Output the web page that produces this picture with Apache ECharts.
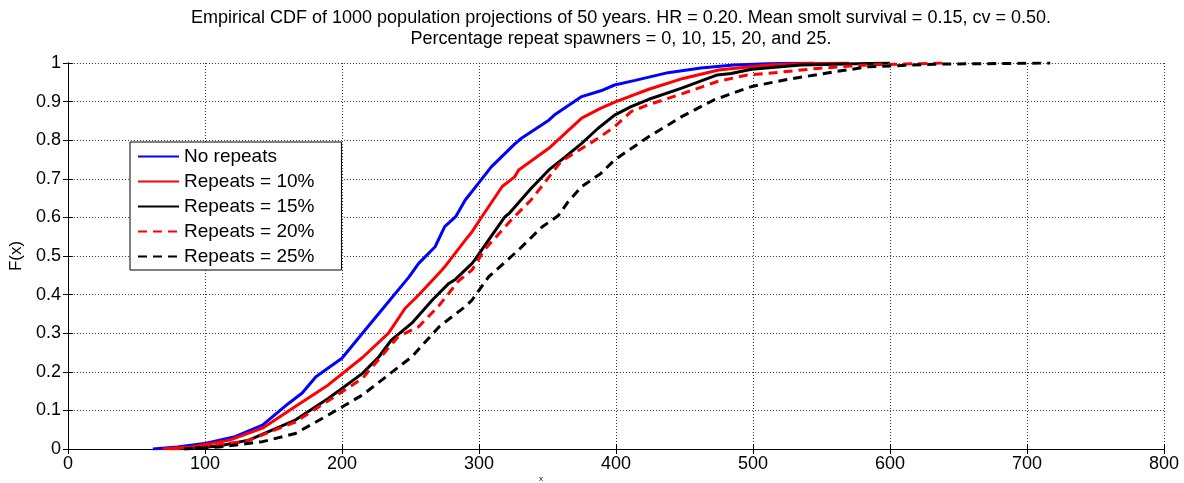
<html>
<head>
<meta charset="utf-8">
<script src="https://cdn.jsdelivr.net/npm/echarts@6/dist/echarts.min.js"></script>
<style>
  html, body { margin: 0; padding: 0; background: #fff; }
  #main { width: 1184px; height: 483px; }
</style>
</head>
<body>
<div id="main"></div>
<script>

// empirical CDF curves: [x, F(x)]
var noRepeats = [
    [62, 0], [80, 0.005], [101, 0.015], [122, 0.032], [142, 0.062], [161, 0.118], [171, 0.145],
    [181, 0.187], [200, 0.235], [215, 0.30], [229, 0.36], [249, 0.446], [256, 0.481], [268, 0.524],
    [275, 0.576], [283, 0.602], [290, 0.645], [300, 0.69], [309, 0.731], [326, 0.79], [331, 0.805],
    [351, 0.852], [355, 0.865], [375, 0.913], [389, 0.928], [399, 0.943], [414, 0.955], [438, 0.975],
    [462, 0.987], [486, 0.995], [511, 0.998], [545, 1]
];
var repeats10 = [
    [69, 0], [90, 0.005], [118, 0.023], [142, 0.054], [166, 0.11], [190, 0.166], [215, 0.237],
    [234, 0.30], [246, 0.364], [256, 0.399], [273, 0.464], [275, 0.472], [292, 0.55], [295, 0.563],
    [302, 0.601], [317, 0.68], [326, 0.705], [329, 0.723], [351, 0.779], [375, 0.857], [389, 0.883],
    [400, 0.90], [424, 0.932], [449, 0.96], [475, 0.982], [511, 0.995], [535, 0.998], [570, 1]
];
var repeats15 = [
    [85, 0], [110, 0.008], [132, 0.023], [166, 0.075], [190, 0.131], [215, 0.196], [227, 0.239],
    [236, 0.282], [251, 0.326], [266, 0.386], [278, 0.429], [283, 0.44], [295, 0.481], [297, 0.49],
    [307, 0.541], [319, 0.602], [322, 0.61], [338, 0.675], [351, 0.723], [363, 0.757], [375, 0.792],
    [387, 0.831], [399, 0.865], [411, 0.887], [424, 0.906], [448, 0.935], [474, 0.969], [484, 0.973],
    [499, 0.984], [535, 0.995], [600, 1]
];
var repeats20 = [
    [75, 0], [100, 0.006], [130, 0.02], [166, 0.07], [190, 0.125], [215, 0.183], [241, 0.291],
    [256, 0.317], [271, 0.372], [285, 0.435], [295, 0.464], [304, 0.516], [324, 0.595], [338, 0.645],
    [360, 0.745], [387, 0.805], [399, 0.835], [411, 0.874], [423, 0.891], [448, 0.92], [474, 0.952],
    [496, 0.969], [511, 0.973], [547, 0.986], [584, 0.995], [640, 1]
];
var repeats25 = [
    [85, 0], [110, 0.005], [142, 0.019], [166, 0.04], [190, 0.088], [215, 0.14], [251, 0.239],
    [271, 0.317], [290, 0.369], [295, 0.386], [307, 0.446], [329, 0.516], [346, 0.575], [358, 0.605],
    [365, 0.64], [375, 0.68], [389, 0.714], [399, 0.749], [423, 0.807], [448, 0.861], [462, 0.887],
    [472, 0.905], [499, 0.939], [523, 0.956], [559, 0.977], [584, 0.99], [632, 0.997], [717, 1]
];

var seriesNames = ['No repeats', 'Repeats = 10%', 'Repeats = 15%', 'Repeats = 20%', 'Repeats = 25%'];
var titleLines = [
    'Empirical CDF of 1000 population projections of 50 years. HR = 0.20. Mean smolt survival = 0.15, cv = 0.50.',
    'Percentage repeat spawners = 0, 10, 15, 20, and 25.'
];

var font = 'Arial, "Liberation Sans", Helvetica, sans-serif';
var myChart = echarts.init(document.getElementById('main'));

function curve(name, data, color, dashed) {
    return {
        name: name,
        type: 'line',
        data: data,
        symbol: 'none',
        animation: false,
        lineStyle: { color: color, width: 3, type: dashed ? [9, 6] : 'solid' },
        itemStyle: { color: color }
    };
}

// top / right axes only close the box and carry the inner ticks
function frameAxis(pos) {
    var isX = pos === 'top';
    return {
        type: 'value',
        position: pos,
        min: 0,
        max: isX ? 800 : 1,
        interval: isX ? 100 : 0.1,
        axisLine: { show: true, lineStyle: { color: '#000', width: 1 } },
        axisTick: { show: true, inside: true, length: 5, lineStyle: { color: '#000' } },
        axisLabel: { show: false },
        splitLine: { show: false }
    };
}

option = {
    backgroundColor: '#fff',
    animation: false,
    title: {
        text: titleLines.join('\n'),
        left: 616,
        top: 3,
        textAlign: 'center',
        textStyle: { fontFamily: font, fontSize: 18, fontWeight: 'normal', color: '#000', lineHeight: 21 }
    },
    grid: { left: 65, right: 20, top: 63, bottom: 34 },
    legend: {
        data: seriesNames,
        orient: 'vertical',
        left: 130,
        top: 142,
        itemWidth: 41,
        itemHeight: 14,
        itemGap: 6,
        padding: [5, 27, 4, 7],
        backgroundColor: '#fff',
        borderColor: '#000',
        borderWidth: 1,
        itemStyle: { color: 'rgba(0,0,0,0)', borderWidth: 0, opacity: 0 },
        textStyle: { fontFamily: font, fontSize: 19, color: '#000', lineHeight: 19 }
    },
    xAxis: [
        {
            type: 'value',
            min: 0,
            max: 800,
            interval: 100,
            axisLine: { lineStyle: { color: '#000', width: 1 } },
            axisTick: { inside: true, length: 5, lineStyle: { color: '#000' } },
            axisLabel: { fontFamily: font, fontSize: 18, color: '#000', margin: 6 },
            splitLine: { show: true, lineStyle: { color: '#333', type: [1, 2], width: 1 } }
        },
        frameAxis('top')
    ],
    yAxis: [
        {
            type: 'value',
            min: 0,
            max: 1,
            interval: 0.1,
            name: 'F(x)',
            nameLocation: 'middle',
            nameGap: 39,
            nameTextStyle: { fontFamily: font, fontSize: 17, color: '#000' },
            axisLine: { show: true, lineStyle: { color: '#000', width: 1 } },
            axisTick: { show: true, inside: true, length: 5, lineStyle: { color: '#000' } },
            axisLabel: { fontFamily: font, fontSize: 18, color: '#000', margin: 7 },
            splitLine: { show: true, lineStyle: { color: '#333', type: [1, 2], width: 1 } }
        },
        frameAxis('right')
    ],
    graphic: [
        {
            type: 'text',
            x: 541,
            y: 479,
            style: { text: 'x', fontFamily: font, fontSize: 8, fill: '#000', textAlign: 'center', textVerticalAlign: 'middle' }
        }
    ],
    series: [
        curve(seriesNames[0], noRepeats, '#0000ff', false),
        curve(seriesNames[1], repeats10, '#ff0000', false),
        curve(seriesNames[2], repeats15, '#000000', false),
        curve(seriesNames[3], repeats20, '#ff0000', true),
        curve(seriesNames[4], repeats25, '#000000', true)
    ]
};

myChart.setOption(option);

</script>
</body>
</html>
